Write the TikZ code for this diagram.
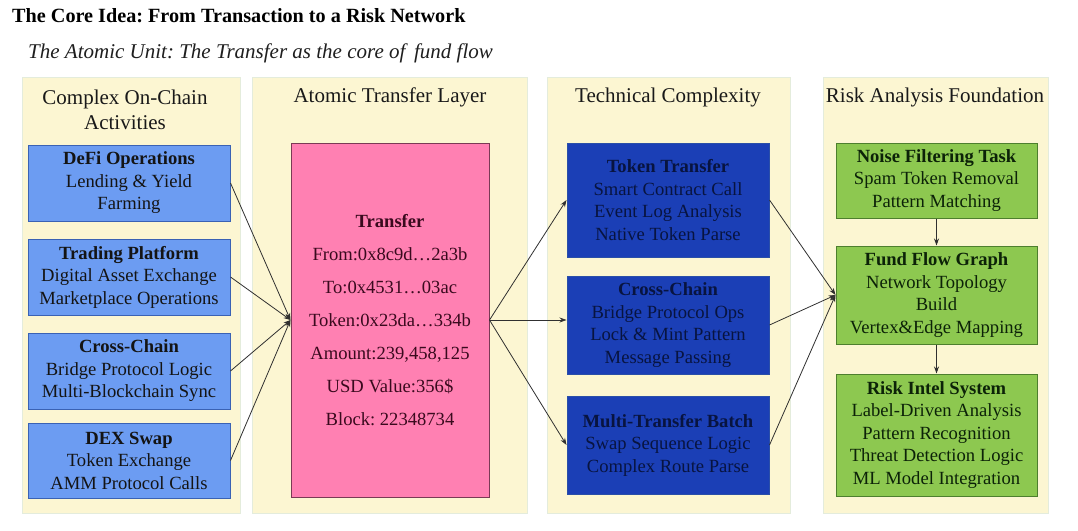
\documentclass[tikz,border=0pt]{standalone}
\usepackage{fontspec}
\setmainfont{Liberation Serif}
\usetikzlibrary{arrows.meta}
\frenchspacing
\definecolor{colbg}{HTML}{FCF6D2}
\definecolor{colbd}{HTML}{E4ECDC}
\definecolor{lblue}{HTML}{6C9CF2}
\definecolor{lbluebd}{HTML}{3A62B4}
\definecolor{dblue}{HTML}{1B3FB6}
\definecolor{dbluebd}{HTML}{2A4FA8}
\definecolor{dbluetx}{HTML}{081440}
\definecolor{pinkf}{HTML}{FF80B2}
\definecolor{pinkbd}{HTML}{7A3A55}
\definecolor{pinktx}{HTML}{3A0A1E}
\definecolor{greenf}{HTML}{8DC850}
\definecolor{greenbd}{HTML}{4D7F2E}
\definecolor{greentx}{HTML}{0C2208}
\definecolor{linec}{HTML}{303030}
\begin{document}
\begin{tikzpicture}[x=1pt,y=-1pt,
  colbox/.style={rectangle, fill=colbg, draw=colbd, line width=0.8pt, inner sep=0pt},
  coltitle/.style={align=center, font=\fontsize{21}{25}\selectfont, text=black!90, inner sep=0pt},
  bodyfont/.style={font=\fontsize{18.6}{22.5}\selectfont, align=center, inner sep=0pt},
  abox/.style={rectangle, fill=lblue, draw=lbluebd, line width=1pt, bodyfont, text=black!92, minimum width=202pt},
  tbox/.style={rectangle, fill=dblue, draw=dbluebd, line width=1pt, bodyfont, text=dbluetx, minimum width=202pt},
  rbox/.style={rectangle, fill=greenf, draw=greenbd, line width=1pt, bodyfont, text=greentx, minimum width=201pt},
  pbox/.style={rectangle, fill=pinkf, draw=pinkbd, line width=1pt, font=\fontsize{18.6}{33}\selectfont, align=center, inner sep=0pt, text=pinktx, minimum width=198pt, minimum height=354pt},
  conn/.style={draw=linec, line width=0.8pt, -{Stealth[length=7pt,width=5pt]}}
]
\useasboundingbox (0,0) rectangle (1078,530);
\fill[white] (0,0) rectangle (1078,530);

\node[anchor=west, font=\bfseries\fontsize{20.2}{24}\selectfont, inner sep=0pt] (title) at (12,16) {The Core Idea: From Transaction to a Risk Network};
\node[anchor=west, font=\itshape\fontsize{21}{24}\selectfont, inner sep=0pt, text=black!88] (subtitle) at (28,53) {The Atomic Unit: The Transfer as the core of\, fund flow};

% columns
\node[colbox, minimum width=218pt, minimum height=436pt] (c1) at (131,295) {};
\node[colbox, minimum width=275pt, minimum height=436pt] (c2) at (389.5,295) {};
\node[colbox, minimum width=243pt, minimum height=436pt] (c3) at (668.5,295) {};
\node[colbox, minimum width=225pt, minimum height=436pt] (c4) at (935.5,295) {};

\node[coltitle] (t1) at (125,110) {Complex On-Chain\\Activities};
\node[coltitle] (t2) at (390,97) {Atomic Transfer Layer};
\node[coltitle] (t3) at (668,97) {Technical Complexity};
\node[coltitle] (t4) at (935,97) {Risk Analysis Foundation};

% column 1
\node[abox, minimum height=76pt] (a1) at (129,183) {\textbf{DeFi Operations}\\Lending \& Yield\\Farming};
\node[abox, minimum height=76pt] (a2) at (129,277) {\textbf{Trading Platform}\\Digital Asset Exchange\\Marketplace Operations};
\node[abox, minimum height=76pt] (a3) at (129,371) {\textbf{Cross-Chain}\\Bridge Protocol Logic\\Multi-Blockchain Sync};
\node[abox, minimum height=75pt] (a4) at (129,460.5) {\textbf{DEX Swap}\\Token Exchange\\AMM Protocol Calls};

% column 2
\node[pbox] (tr) at (390,320) {\textbf{Transfer}\\From:0x8c9d…2a3b\\To:0x4531…03ac\\Token:0x23da…334b\\Amount:239,458,125\\USD Value:356\$\\Block: 22348734};

% column 3
\node[tbox, minimum height=114pt] (b1) at (668,200) {\textbf{Token Transfer}\\Smart Contract Call\\Event Log Analysis\\Native Token Parse};
\node[tbox, minimum height=98pt] (b2) at (668,325) {\textbf{Cross-Chain}\\Bridge Protocol Ops\\Lock \& Mint Pattern\\Message Passing};
\node[tbox, minimum height=98pt] (b3) at (668,445) {\textbf{Multi-Transfer Batch}\\Swap Sequence Logic\\Complex Route Parse};

% column 4
\node[rbox, minimum height=75pt] (r1) at (936.5,180.5) {\textbf{Noise Filtering Task}\\Spam Token Removal\\Pattern Matching};
\node[rbox, minimum height=98pt] (r2) at (936.5,295) {\textbf{Fund Flow Graph}\\Network Topology\\Build\\Vertex\&Edge Mapping};
\node[rbox, minimum height=122pt] (r3) at (936.5,435) {\textbf{Risk Intel System}\\Label-Driven Analysis\\Pattern Recognition\\Threat Detection Logic\\ML Model Integration};

% connectors
\foreach \s in {a1,a2,a3,a4} \draw[conn] (\s.east) -- (tr.west);
\draw[conn] (tr.east) -- (b1.west);
\draw[conn] (tr.east) -- (tr.east -| b2.west);
\draw[conn] (tr.east) -- (b3.west);
\foreach \s in {b1,b2,b3} \draw[conn] (\s.east) -- (r2.west);
\draw[conn] (r1.south) -- (r2.north);
\draw[conn] (r2.south) -- (r3.north);
\end{tikzpicture}
\end{document}
